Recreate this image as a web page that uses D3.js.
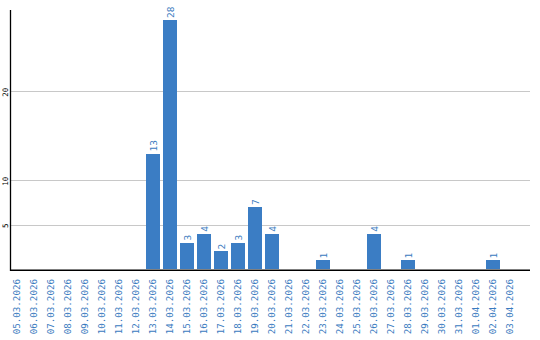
<!DOCTYPE html>
<html>
<head>
<meta charset="utf-8">
<script src="https://cdn.jsdelivr.net/npm/d3@7"></script>
<style>
  html, body { margin: 0; padding: 0; background: #fff; }
  svg { display: block; }
  text { font-family: "DejaVu Sans Mono", monospace; }
</style>
</head>
<body>
<svg id="chart"></svg>
<script>
// Daily counts, 05.03.2026 - 03.04.2026
const dates = [
  '05.03.2026', '06.03.2026', '07.03.2026', '08.03.2026', '09.03.2026',
  '10.03.2026', '11.03.2026', '12.03.2026', '13.03.2026', '14.03.2026',
  '15.03.2026', '16.03.2026', '17.03.2026', '18.03.2026', '19.03.2026',
  '20.03.2026', '21.03.2026', '22.03.2026', '23.03.2026', '24.03.2026',
  '25.03.2026', '26.03.2026', '27.03.2026', '28.03.2026', '29.03.2026',
  '30.03.2026', '31.03.2026', '01.04.2026', '02.04.2026', '03.04.2026'
];
const counts = [
  0, 0, 0, 0, 0,
  0, 0, 0, 13, 28,
  3, 4, 2, 3, 7,
  4, 0, 0, 1, 0,
  0, 4, 0, 1, 0,
  0, 0, 0, 1, 0
];
const yTicks = [5, 10, 20];
const yMax = 29.13;

const width = 540, height = 340;
const barColor = '#3b7dc4';
const textColor = '#3a7bc0';

const svg = d3.select('#chart')
  .attr('width', width)
  .attr('height', height);

const x = d3.scaleBand()
  .domain(dates)
  .range([8.5, 518.5])
  .paddingInner(3 / 17)
  .paddingOuter(1.5 / 17);

const y = d3.scaleLinear()
  .domain([0, yMax])
  .range([269.3, 10]);

// gridlines
svg.append('g')
  .selectAll('line')
  .data(yTicks)
  .join('line')
  .attr('x1', 11)
  .attr('x2', 530)
  .attr('y1', d => Math.round(y(d)) + 0.5)
  .attr('y2', d => Math.round(y(d)) + 0.5)
  .attr('stroke', '#c8c8c8')
  .attr('stroke-width', 1);

// y tick labels
svg.append('g')
  .selectAll('text')
  .data(yTicks)
  .join('text')
  .attr('transform', d => `translate(7.8,${y(d) + 1}) rotate(-90)`)
  .attr('text-anchor', 'middle')
  .attr('font-size', 7.5)
  .attr('fill', '#000')
  .text(d => d);

// bars
const nonZero = dates.map((d, i) => ({ date: d, value: counts[i] }))
  .filter(d => d.value > 0);

svg.append('g')
  .selectAll('rect')
  .data(nonZero)
  .join('rect')
  .attr('x', d => x(d.date))
  .attr('y', d => y(d.value))
  .attr('width', x.bandwidth())
  .attr('height', d => y(0) - y(d.value))
  .attr('fill', barColor)
  .attr('shape-rendering', 'crispEdges');

// value labels
svg.append('g')
  .selectAll('text')
  .data(nonZero)
  .join('text')
  .attr('transform', d => `translate(${x(d.date) + x.bandwidth() / 2 + 3.5},${y(d.value) - 2}) rotate(-90)`)
  .attr('text-anchor', 'start')
  .attr('font-size', 9.5)
  .attr('fill', textColor)
  .text(d => d.value);

// axes lines
svg.append('line')
  .attr('x1', 10.5).attr('x2', 10.5)
  .attr('y1', 10).attr('y2', 271)
  .attr('stroke', '#000')
  .attr('stroke-width', 1.3);

svg.append('line')
  .attr('x1', 10).attr('x2', 530)
  .attr('y1', 270.2).attr('y2', 270.2)
  .attr('stroke', '#000')
  .attr('stroke-width', 1.4);

// category labels
svg.append('g')
  .selectAll('text')
  .data(dates)
  .join('text')
  .attr('transform', d => `translate(${x(d) + x.bandwidth() / 2 + 3.2},279) rotate(-90)`)
  .attr('text-anchor', 'end')
  .attr('font-size', 9.2)
  .attr('fill', textColor)
  .text(d => d);
</script>
</body>
</html>
